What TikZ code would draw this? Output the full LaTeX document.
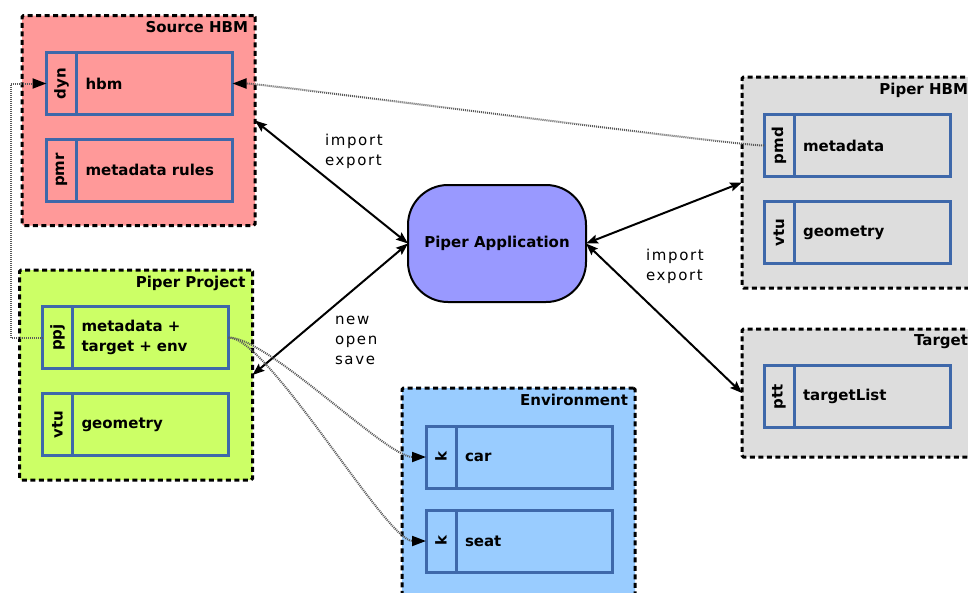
\documentclass[tikz,border=0pt]{standalone}
\usepackage{fontspec}
\setmainfont{DejaVu Sans}
\definecolor{HbmRed}{RGB}{255,153,153}
\definecolor{ProjGreen}{RGB}{204,255,102}
\definecolor{EnvBlue}{RGB}{153,204,255}
\definecolor{AppViolet}{RGB}{153,153,255}
\definecolor{PanelGrey}{RGB}{221,221,221}
\definecolor{SlotBlue}{RGB}{62,104,170}
\usetikzlibrary{arrows.meta, positioning}

\begin{document}
\begin{tikzpicture}[x=1pt, y=-1pt,
    every node/.style={font=\fontsize{15}{20}\selectfont, outer sep=0pt},
    group/.style={draw, line width=3pt, dash pattern=on 5pt off 3.5pt, rounded corners=1.5pt, minimum width=233pt, inner sep=0pt},
    grouptitle/.style={anchor=north east, inner sep=0pt, font=\fontsize{15}{20}\selectfont\bfseries},
    tagbox/.style={draw=SlotBlue, line width=3pt, minimum width=30pt, minimum height=62pt, inner sep=0pt, font=\fontsize{15}{20}\selectfont\bfseries},
    slotbox/.style={draw=SlotBlue, line width=3pt, text width=138pt, inner sep=9pt, minimum height=62pt, align=left, font=\fontsize{15}{20}\selectfont\bfseries},
    verb/.style={anchor=north west, inner sep=0pt, align=left, font=\fontsize{15}{20}\selectfont\addfontfeature{LetterSpace=11}},
    link/.style={{Stealth[length=12pt,width=9pt,inset=2pt]}-{Stealth[length=12pt,width=9pt,inset=2pt]}, line width=2pt},
    ref/.style={draw=black!65, dash pattern=on 1pt off 1pt, line width=2pt, -{Triangle[length=14pt,width=10pt,black,fill=black]}}]
    \useasboundingbox (0,0) rectangle (968,592);

    % Source HBM
    \node[group, fill=HbmRed, minimum height=210pt] (shbm) at (138.5,120.5) {};
    \node[grouptitle] (shbmtitle) at ([xshift=-7pt,yshift=-6pt]shbm.north east) {Source HBM};
    \node[tagbox] (dyn) at (61.5,83.5) {\rotatebox{90}{dyn}};
    \node[slotbox, right=0pt of dyn] (hbm) {hbm};
    \node[tagbox] (pmr) at (61.5,170) {\rotatebox{90}{pmr}};
    \node[slotbox, right=0pt of pmr] (rules) {metadata rules};

    % Piper Project
    \node[group, fill=ProjGreen, minimum height=210pt] (proj) at (136,375) {};
    \node[grouptitle] (projtitle) at ([xshift=-7pt,yshift=-6pt]proj.north east) {Piper Project};
    \node[tagbox] (ppj) at (57.5,337.5) {\rotatebox{90}{ppj}};
    \node[slotbox, right=0pt of ppj] (ppjmeta) {metadata +\\target + env};
    \node[tagbox] (pvtu) at (57.5,424.5) {\rotatebox{90}{vtu}};
    \node[slotbox, right=0pt of pvtu] (pgeom) {geometry};

    % Piper HBM
    \node[group, fill=PanelGrey, minimum height=211pt] (phbm) at (858.5,182.5) {};
    \node[grouptitle] (phbmtitle) at ([xshift=-7pt,yshift=-6pt]phbm.north east) {Piper HBM};
    \node[tagbox] (pmd) at (779,145.5) {\rotatebox{90}{pmd}};
    \node[slotbox, right=0pt of pmd] (meta) {metadata};
    \node[tagbox] (hvtu) at (779,232.5) {\rotatebox{90}{vtu}};
    \node[slotbox, right=0pt of hvtu] (hgeom) {geometry};

    % Target
    \node[group, fill=PanelGrey, minimum height=128pt] (target) at (858.5,393) {};
    \node[grouptitle] (targettitle) at ([xshift=-7pt,yshift=-6pt]target.north east) {Target};
    \node[tagbox] (ptt) at (779,396.5) {\rotatebox{90}{ptt}};
    \node[slotbox, right=0pt of ptt] (tlist) {targetList};

    % Environment
    \node[group, fill=EnvBlue, minimum height=209pt] (env) at (518.5,492.5) {};
    \node[grouptitle] (envtitle) at ([xshift=-7pt,yshift=-6pt]env.north east) {Environment};
    \node[tagbox] (kcar) at (441,457) {\rotatebox{90}{k}};
    \node[slotbox, right=0pt of kcar] (car) {car};
    \node[tagbox] (kseat) at (441,541) {\rotatebox{90}{k}};
    \node[slotbox, right=0pt of kseat] (seat) {seat};

    % Application
    \node[draw, line width=2pt, fill=AppViolet, rounded corners=40pt, minimum width=178pt, minimum height=117pt, font=\fontsize{15}{20}\selectfont\bfseries] (app) at (497,243.5) {Piper Application};

    % Exchanges
    \draw[link] (shbm.east) -- (app.west);
    \draw[link] (proj.east) -- (app.west);
    \draw[link] (app.east) -- (phbm.west);
    \draw[link] (app.east) -- (target.west);
    \node[verb] (lblsrc) at (325,134) {import\\export};
    \node[verb] (lblproj) at (335,316) {new\\open\\save};
    \node[verb] (lblhbm) at (646,249) {import\\export};

    % References
    \draw[ref] (ppj.west) -- ([xshift=-32pt]ppj.west) |- (dyn.west);
    \draw[ref] (pmd.west) .. controls +(-30,0) and +(30,0) .. (hbm.east);
    \draw[ref] (ppjmeta.east) .. controls +(40,0) and +(-40,0) .. (kcar.west);
    \draw[ref] (ppjmeta.east) .. controls +(40,0) and +(-40,0) .. (kseat.west);
\end{tikzpicture}
\end{document}
